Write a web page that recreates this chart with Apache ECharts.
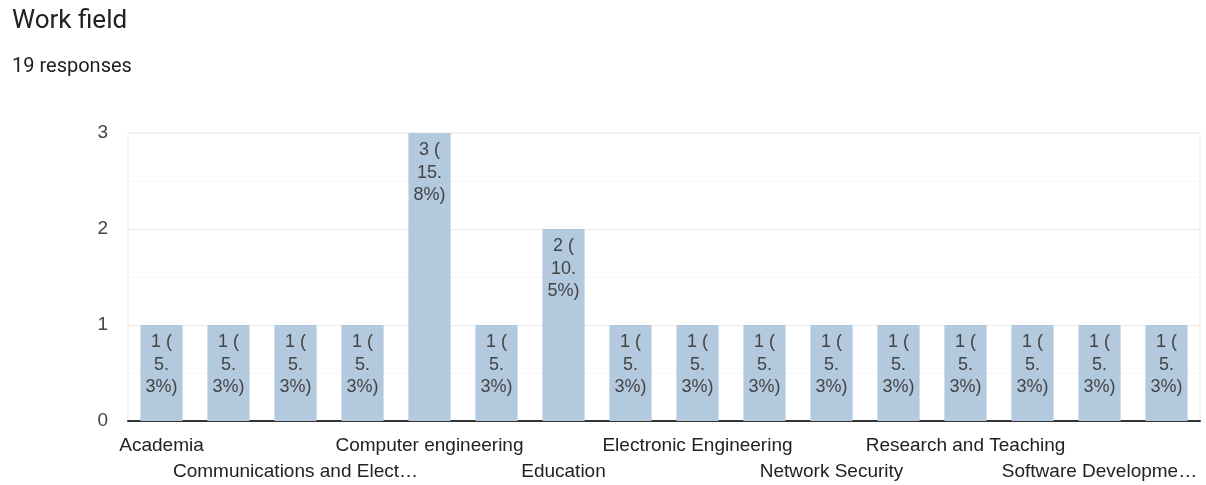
<!DOCTYPE html>
<html>
<head>
<meta charset="utf-8">
<script src="https://cdn.jsdelivr.net/npm/echarts@6/dist/echarts.min.js"></script>
<style>
html,body{margin:0;padding:0;background:#fff;}
#chart{width:1206px;height:485px;}
</style>
</head>
<body>
<div id="chart"></div>
<script>
const categories = [
  "Academia", "Automation", "Communications and Electronics", "Computer Science",
  "Computer engineering", "Data Science", "Education", "Electrical Engineering",
  "Electronic Engineering", "Information Technology", "Network Security", "Research",
  "Research and Teaching", "Security", "Software Development", "Telecommunications"
];
const tickLabels = [
  "Academia", "", "Communications and Elect\u2026", "",
  "Computer engineering", "", "Education", "",
  "Electronic Engineering", "", "Network Security", "",
  "Research and Teaching", "", "Software Developme\u2026", ""
];
const values = [1, 1, 1, 1, 3, 1, 2, 1, 1, 1, 1, 1, 1, 1, 1, 1];
const totalResponses = 19;
const yTicks = [0, 1, 2, 3];

const chart = echarts.init(document.getElementById('chart'), null, {renderer: 'canvas'});
const font = 'Liberation Sans, Arial, sans-serif';
chart.setOption({
  animation: false,
  title: [
    {text: 'Work field', left: 7, top: 3, textStyle: {fontFamily: 'Roboto, Arial, sans-serif', fontSize: 26, fontWeight: 'normal', color: '#202124'}},
    {text: totalResponses + ' responses', left: 7, top: 52, textStyle: {fontFamily: 'Roboto, Arial, sans-serif', fontSize: 20, fontWeight: 'normal', color: '#202124'}}
  ],
  grid: {left: 128, right: 6, top: 133, bottom: 61, show: true, borderColor: '#ebebeb', borderWidth: 1},
  xAxis: {
    type: 'category',
    data: categories,
    axisTick: {show: false},
    axisLine: {lineStyle: {color: '#333', width: 2}},
    axisLabel: {
      interval: 0,
      margin: 12,
      fontFamily: font,
      fontSize: 19,
      color: '#222',
      lineHeight: 26,
      formatter: function (v, i) {
        const t = tickLabels[i];
        if (!t) return '';
        return (i % 4 === 2) ? '\n' + t : t;
      }
    }
  },
  yAxis: {
    type: 'value',
    min: yTicks[0],
    max: yTicks[yTicks.length - 1],
    interval: 1,
    axisLine: {show: false},
    axisTick: {show: false},
    axisLabel: {margin: 20, fontFamily: font, fontSize: 19, color: '#444'},
    splitLine: {lineStyle: {color: '#ebebeb', width: 1}},
    minorTick: {show: false, splitNumber: 2},
    minorSplitLine: {show: true, lineStyle: {color: '#f6f6f6', width: 1}}
  },
  series: [{
    type: 'bar',
    data: values,
    barCategoryGap: '37%',
    itemStyle: {color: '#b3c9de'},
    label: {
      show: true,
      position: 'insideTop',
      distance: 6,
      fontFamily: font,
      fontSize: 18,
      lineHeight: 22.5,
      color: '#444',
      formatter: function (p) {
        const pct = (p.value / totalResponses * 100).toFixed(1).split('.');
        return p.value + ' (\n' + pct[0] + '.\n' + pct[1] + '%)';
      }
    }
  }]
});
</script>
</body>
</html>
